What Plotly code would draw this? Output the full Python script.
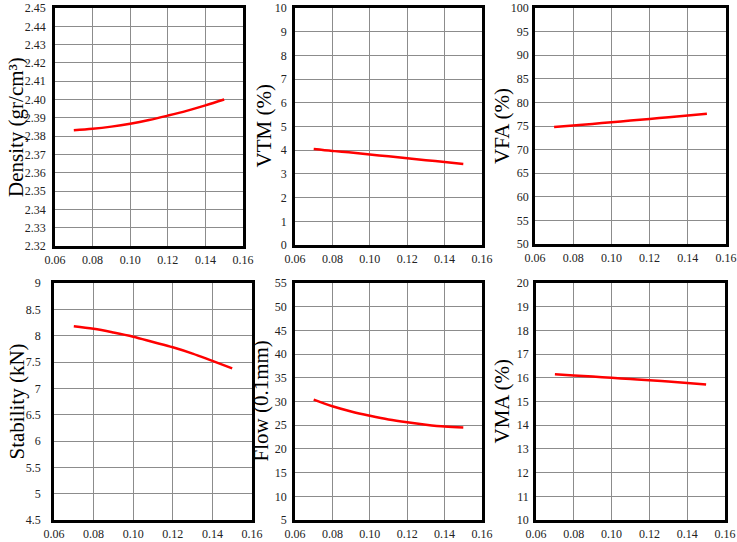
import plotly.graph_objects as go

W, H = 737, 542

# ---- data ----
x_vals = [0.07, 0.08, 0.09, 0.10, 0.11, 0.12, 0.13, 0.14, 0.15]
density = [2.3832, 2.3840, 2.3852, 2.3868, 2.3888, 2.3912, 2.3938, 2.3968, 2.4000]
vtm = [4.05, 3.97, 3.90, 3.82, 3.74, 3.66, 3.58, 3.50, 3.42]
vfa = [74.8, 75.1, 75.45, 75.8, 76.15, 76.5, 76.85, 77.2, 77.6]
stability = [8.18, 8.13, 8.06, 7.98, 7.88, 7.78, 7.66, 7.52, 7.38]
flow = [30.4, 29.0, 27.9, 27.0, 26.2, 25.6, 25.1, 24.7, 24.5]
vma = [16.15, 16.10, 16.05, 16.0, 15.95, 15.90, 15.84, 15.78, 15.72]

x_ticks = [0.06, 0.08, 0.10, 0.12, 0.14, 0.16]

panels = [
    dict(y=density, title="Density (gr/cm³)", rng=[2.32, 2.45], dtick=0.01, fmt=".2f",
         px=(55, 243, 8, 246), lstand=4, tx=16),
    dict(y=vtm, title="VTM (%)", rng=[0, 10], dtick=1, fmt="",
         px=(295, 482, 8, 245), lstand=3, tx=263),
    dict(y=vfa, title="VFA (%)", rng=[50, 100], dtick=5, fmt="",
         px=(535, 726, 8, 244), lstand=1, tx=502),
    dict(y=stability, title="Stability (kN)", rng=[4.5, 9], dtick=0.5, fmt="",
         px=(54, 252, 283, 520), lstand=8, tx=16),
    dict(y=flow, title="Flow (0.1mm)", rng=[5, 55], dtick=5, fmt="",
         px=(295, 482, 283, 520), lstand=3, tx=260),
    dict(y=vma, title="VMA (%)", rng=[10, 20], dtick=1, fmt="",
         px=(536, 725, 283, 520), lstand=2, tx=501),
]

FONT = "Liberation Serif"
fig = go.Figure()
layout = dict(
    width=W, height=H, margin=dict(l=0, r=0, t=0, b=0, autoexpand=False),
    paper_bgcolor="white", plot_bgcolor="white", showlegend=False,
    font=dict(family=FONT, color="black"),
)
annotations = []

for i, p in enumerate(panels, start=1):
    sx = "" if i == 1 else str(i)
    fig.add_trace(go.Scatter(
        x=x_vals, y=p["y"], mode="lines",
        line=dict(color="#ff0000", width=2.5, shape="spline"),
        xaxis="x" + sx, yaxis="y" + sx,
    ))
    l, r, t, b = p["px"]
    layout["xaxis" + sx] = dict(
        domain=[l / W, r / W], anchor="y" + sx,
        range=[0.06, 0.16], tickvals=x_ticks, tickformat=".2f",
        showgrid=True, gridcolor="#8c8c8c", gridwidth=1,
        showline=True, linecolor="black", linewidth=2.5, mirror=True,
        ticks="", zeroline=False, tickfont=dict(size=12, family=FONT, color="#222"),
        ticklabelstandoff=1,
    )
    layout["yaxis" + sx] = dict(
        domain=[1 - b / H, 1 - t / H], anchor="x" + sx,
        range=p["rng"], dtick=p["dtick"], tick0=p["rng"][0], tickformat=p["fmt"],
        showgrid=True, gridcolor="#8c8c8c", gridwidth=1,
        showline=True, linecolor="black", linewidth=2.5, mirror=True,
        ticks="", zeroline=False, tickfont=dict(size=12, family=FONT, color="#222"),
        ticklabelstandoff=p["lstand"],
    )
    annotations.append(dict(
        text=p["title"], textangle=-90, showarrow=False,
        xref="paper", yref="paper", x=p["tx"] / W, y=1 - (t + b) / 2 / H,
        xanchor="center", yanchor="middle",
        font=dict(size=21, family=FONT, color="black"),
    ))

layout["annotations"] = annotations
fig.update_layout(**layout)
fig.write_html("out.html")
